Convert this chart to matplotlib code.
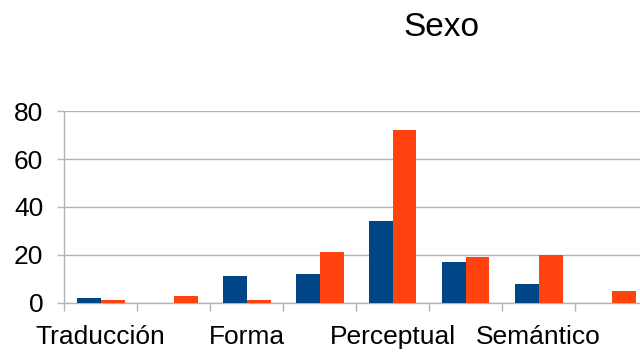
import matplotlib.pyplot as plt
import numpy as np

plt.rcParams['font.family'] = ['Liberation Sans', 'DejaVu Sans']

# categories (only every other name is printed on the axis)
categories = ["Traducción", "", "Forma", "", "Perceptual", "", "Semántico", ""]
serie_azul = [2, 0, 11, 12, 34, 17, 8, 0]
serie_naranja = [1, 3, 1, 21, 72, 19, 20, 5]
yticks = [0, 20, 40, 60, 80]

fig = plt.figure(figsize=(6.4, 3.52), dpi=100)
ax = fig.add_axes([64/640, 49.3/352, 584/640, 191.4/352])

x = np.arange(len(categories)) + 0.5
w = 24/73
ax.bar(x - w/2, serie_azul, width=w, color="#004586", zorder=3)
ax.bar(x + w/2, serie_naranja, width=w, color="#ff420e", zorder=3)

ax.set_xlim(0, len(categories))
ax.set_ylim(0, 80)
ax.set_yticks(yticks)
ax.set_yticklabels([str(v) for v in yticks], fontsize=19)
ax.yaxis.grid(True, color="#b3b3b3", lw=1, zorder=0)
ax.tick_params(axis='y', length=5, width=1, color="#b3b3b3", pad=10)

# group boundaries carry the tick marks, labels sit at group centres
ax.set_xticks(np.arange(len(categories) + 1))
ax.set_xticklabels([])
ax.tick_params(axis='x', which='major', length=5.7, width=1, color="#b3b3b3")
ax.set_xticks(x, minor=True)
ax.set_xticklabels([c if i % 2 == 0 else "" for i, c in enumerate(categories)],
                   minor=True, fontsize=19)
ax.tick_params(axis='x', which='minor', length=0, pad=16)

for s in ['top', 'right']:
    ax.spines[s].set_visible(False)
for s in ['left', 'bottom']:
    ax.spines[s].set_color("#b3b3b3")
    ax.spines[s].set_linewidth(1)

fig.text(441/640, 1 - 36/352, "Sexo", fontsize=24, ha='center', va='baseline')

fig.savefig("out.png", dpi=100)
